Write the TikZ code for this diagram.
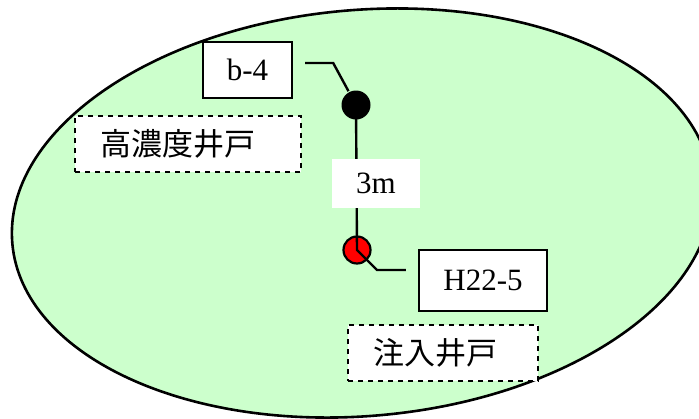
\documentclass[tikz,border=0pt]{standalone}
\usepackage{fontspec}
\setmainfont{Liberation Serif}
\newfontfamily\cjk{Noto Sans CJK JP}
\usepackage{xcolor}
\definecolor{meadow}{RGB}{204,255,204}
\usetikzlibrary{positioning}

\begin{document}
\begin{tikzpicture}[
      x=1pt, y=-1pt,
      line width=2.4pt,
      tag/.style={draw, fill=white, line width=2.4pt, inner sep=0pt,
                  font=\fontsize{31}{33}\selectfont},
      gap/.style={fill=white, inner sep=0pt, font=\fontsize{31}{33}\selectfont},
      well/.style={draw, dashed, dash pattern=on 5pt off 5pt, line width=1.3pt,
                   fill=white, inner xsep=25pt, inner ysep=0pt, align=left,
                   minimum height=56pt, font=\cjk\fontsize{31}{33}\selectfont},
      dot/.style={circle, inner sep=0pt, minimum size=29pt}
  ]
  \useasboundingbox (0,0) rectangle (699,418);
  % site outline
  \draw[fill=meadow, line width=2.6pt, rotate around={5:(362,213)}]
       (362,213) ellipse [x radius=351pt, y radius=203pt];

  \node[tag, minimum width=89pt, minimum height=56pt] (b4) at (247.5,70) {b-4};
  \node[tag, minimum width=128pt, minimum height=61pt] (h22) at (483,280.5) {H22-5};
  \node[well, text width=176pt] (hk) at (188,144) {\raisebox{-6pt}{高濃度井戸}};
  \node[well, text width=140pt] (cy) at (443,353) {\raisebox{-5pt}{注入井戸}};

  \node[dot, fill=black] (pb) at (356,105) {};
  \node[dot, draw, fill=red, line width=2.2pt, minimum size=27pt] (ph) at (357,250) {};
  \coordinate (kink) at (377,270);

  \draw ([xshift=12pt,yshift=7pt]b4.east) -- ++(28,0) -- (pb);
  \draw (pb.center) -- (ph.center) -- (kink) -- ([xshift=-12pt,yshift=10.5pt]h22.west);

  \node[gap, minimum width=88pt, minimum height=49pt] (dist) at (376,183.5) {\raisebox{-5pt}{3m}};
\end{tikzpicture}
\end{document}
